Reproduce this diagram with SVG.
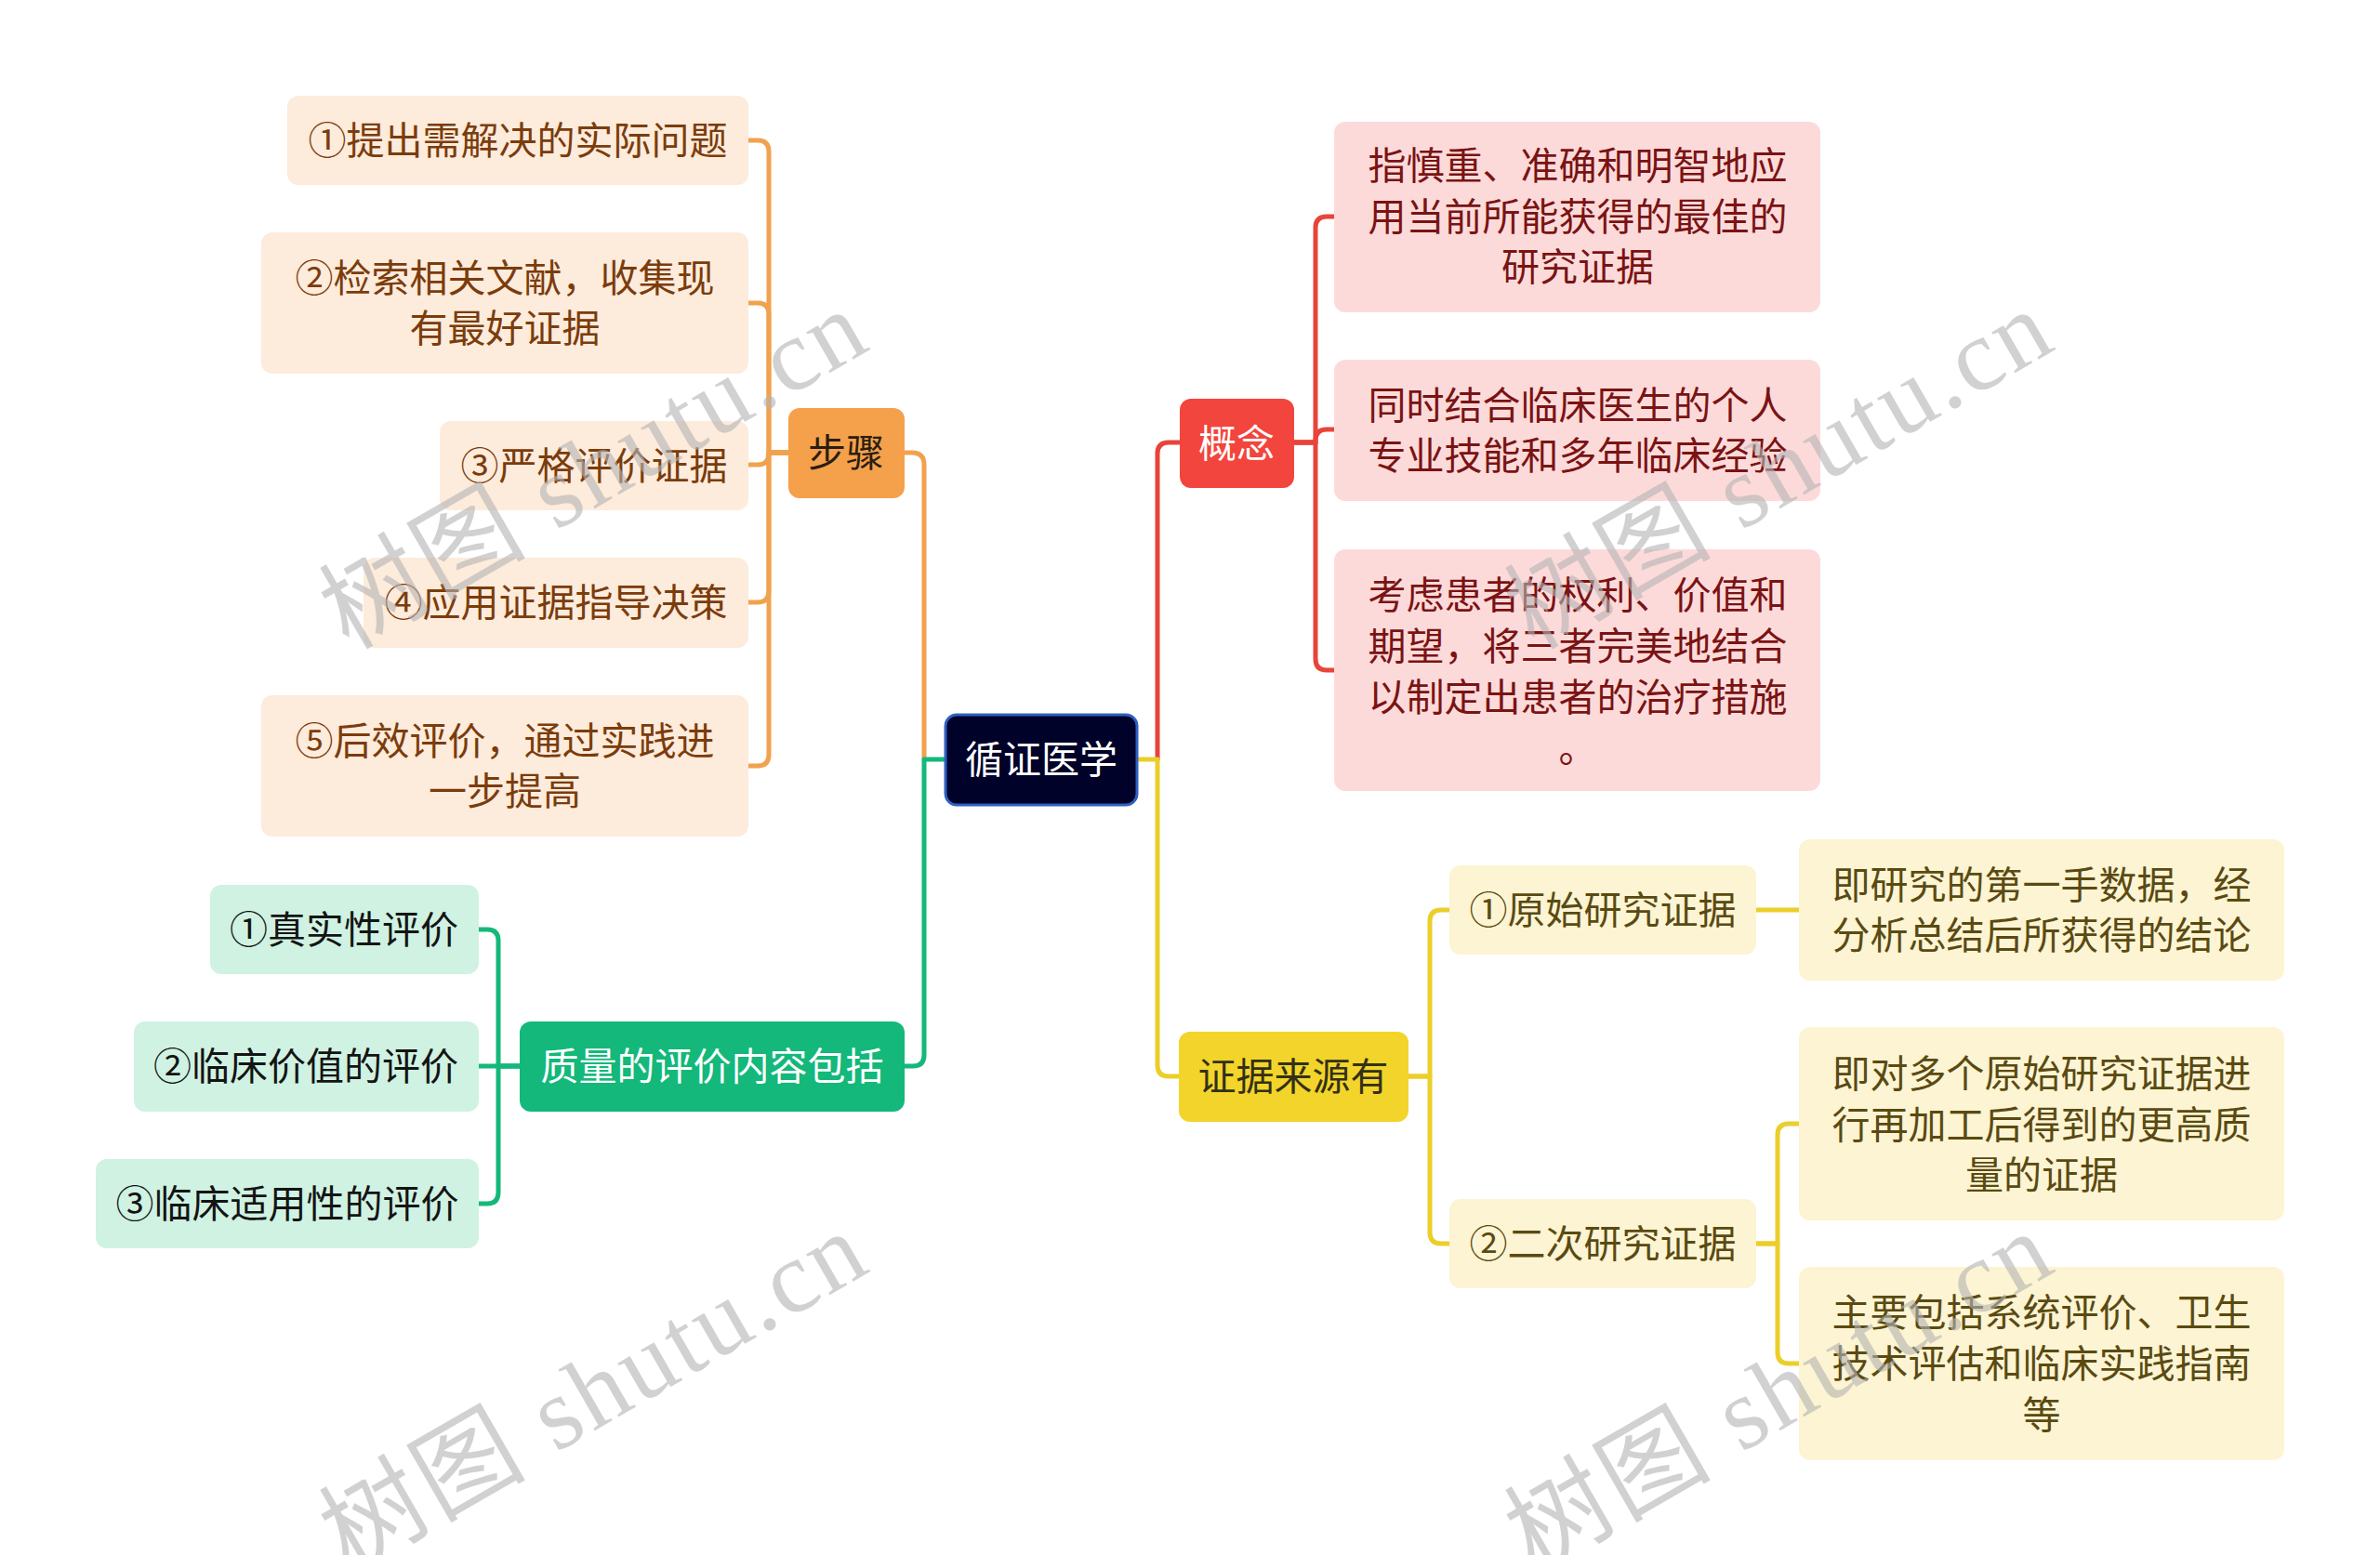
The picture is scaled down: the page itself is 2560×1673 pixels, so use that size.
<svg xmlns="http://www.w3.org/2000/svg" width="2560" height="1673" viewBox="0 0 2560 1673">
<style>
text{font-family:"Noto Sans CJK SC","Liberation Sans",sans-serif;font-size:41px;text-anchor:middle;dominant-baseline:central}
.ln{fill:none;stroke-width:5;stroke-linecap:round;stroke-linejoin:round}
.or{stroke:#f1a24e}.gr{stroke:#14b87b}.rd{stroke:#e8443a}.yl{stroke:#ecce2b}
.t-or{fill:#fdebdb}.x-or{fill:#7b3c0c}
.t-gr{fill:#cff2e2}.x-gr{fill:#141414}
.t-rd{fill:#fddada}.x-rd{fill:#7a1313}
.t-yl{fill:#fcf4d2}.x-yl{fill:#5a4a12}
.wm{font-family:"Liberation Serif","Noto Sans CJK SC",serif;font-size:110px;text-anchor:start;dominant-baseline:alphabetic;fill:#b4b4b4;opacity:0.6}
</style>
<rect width="2560" height="1673" fill="#ffffff"/>
<g id="connectors">
<path class="ln or" d="M973 487 H981 Q994 487 994 500 V817"/>
<path class="ln gr" d="M1017 817 H994 V1135 Q994 1147 982 1147 H973"/>
<path class="ln rd" d="M1245 817 V488 Q1245 476 1257 476 H1269"/>
<path class="ln yl" d="M1223 817 H1245 V1146 Q1245 1158 1257 1158 H1268"/>
<path class="ln or" d="M849 487 H827 V163 Q827 151 815 151 H805"/>
<path class="ln or" d="M849 487 H827 V338 Q827 326 815 326 H805"/>
<path class="ln or" d="M849 487 H827 V488 Q827 500 815 500 H805"/>
<path class="ln or" d="M849 487 H827 V636 Q827 648 815 648 H805"/>
<path class="ln or" d="M849 487 H827 V812 Q827 824 815 824 H805"/>
<path class="ln gr" d="M559 1147 H536 V1012 Q536 1000 524 1000 H515"/>
<path class="ln gr" d="M559 1147 H515"/>
<path class="ln gr" d="M559 1147 H536 V1283 Q536 1295 524 1295 H515"/>
<path class="ln rd" d="M1392 476 H1415 V245 Q1415 233 1427 233 H1435"/>
<path class="ln rd" d="M1392 476 H1415 V474 Q1415 462 1427 462 H1435"/>
<path class="ln rd" d="M1392 476 H1415 V709 Q1415 721 1427 721 H1435"/>
<path class="ln yl" d="M1515 1158 H1538 V991 Q1538 979 1550 979 H1559"/>
<path class="ln yl" d="M1515 1158 H1538 V1326 Q1538 1338 1550 1338 H1559"/>
<path class="ln yl" d="M1889 979 H1935"/>
<path class="ln yl" d="M1889 1338 H1912 V1221 Q1912 1209 1924 1209 H1935"/>
<path class="ln yl" d="M1889 1338 H1912 V1455 Q1912 1467 1924 1467 H1935"/>
</g>
<g id="root">
<rect x="1017" y="769" width="206" height="97" rx="12" fill="#000229" stroke="#2f60c2" stroke-width="3"/>
<text x="1120" y="814" fill="#ffffff">循证医学</text>
</g>
<g id="buzhou">
<rect x="848" y="439" width="125" height="97" rx="12" fill="#f5a04b"/>
<text x="910" y="484" fill="#2a1e10">步骤</text>
</g>
<g id="zhiliang">
<rect x="559" y="1099" width="414" height="97" rx="12" fill="#13b87a"/>
<text x="766" y="1144" fill="#ffffff">质量的评价内容包括</text>
</g>
<g id="gainian">
<rect x="1269" y="429" width="123" height="96" rx="12" fill="#f2453d"/>
<text x="1330" y="474" fill="#ffffff">概念</text>
</g>
<g id="zhengju">
<rect x="1268" y="1110" width="247" height="97" rx="12" fill="#f2d42a"/>
<text x="1391" y="1155" fill="#333018">证据来源有</text>
</g>
<g id="step1"><rect class="t-or" x="309" y="103" width="496" height="96" rx="12"/><text class="x-or" x="557" y="148">①提出需解决的实际问题</text></g>
<g id="step2"><rect class="t-or" x="281" y="250" width="524" height="152" rx="12"/><text class="x-or" x="543" y="296">②检索相关文献，收集现</text><text class="x-or" x="543" y="350">有最好证据</text></g>
<g id="step3"><rect class="t-or" x="473" y="453" width="332" height="96" rx="12"/><text class="x-or" x="639" y="498">③严格评价证据</text></g>
<g id="step4"><rect class="t-or" x="391" y="600" width="414" height="97" rx="12"/><text class="x-or" x="598" y="645">④应用证据指导决策</text></g>
<g id="step5"><rect class="t-or" x="281" y="748" width="524" height="152" rx="12"/><text class="x-or" x="543" y="794">⑤后效评价，通过实践进</text><text class="x-or" x="543" y="848">一步提高</text></g>
<g id="q1"><rect class="t-gr" x="226" y="952" width="289" height="96" rx="12"/><text class="x-gr" x="370" y="997">①真实性评价</text></g>
<g id="q2"><rect class="t-gr" x="144" y="1099" width="371" height="97" rx="12"/><text class="x-gr" x="329" y="1144">②临床价值的评价</text></g>
<g id="q3"><rect class="t-gr" x="103" y="1247" width="412" height="96" rx="12"/><text class="x-gr" x="309" y="1292">③临床适用性的评价</text></g>
<g id="c1"><rect class="t-rd" x="1435" y="131" width="523" height="205" rx="12"/><text class="x-rd" x="1697" y="175">指慎重、准确和明智地应</text><text class="x-rd" x="1697" y="230">用当前所能获得的最佳的</text><text class="x-rd" x="1697" y="284">研究证据</text></g>
<g id="c2"><rect class="t-rd" x="1435" y="387" width="523" height="152" rx="12"/><text class="x-rd" x="1697" y="433">同时结合临床医生的个人</text><text class="x-rd" x="1697" y="487">专业技能和多年临床经验</text></g>
<g id="c3"><rect class="t-rd" x="1435" y="591" width="523" height="260" rx="12"/><text class="x-rd" x="1697" y="637">考虑患者的权利、价值和</text><text class="x-rd" x="1697" y="692">期望，将三者完美地结合</text><text class="x-rd" x="1697" y="747">以制定出患者的治疗措施</text><text class="x-rd" x="1697" y="802">。</text></g>
<g id="e1"><rect class="t-yl" x="1559" y="931" width="330" height="96" rx="12"/><text class="x-yl" x="1724" y="976">①原始研究证据</text></g>
<g id="e2"><rect class="t-yl" x="1559" y="1290" width="330" height="96" rx="12"/><text class="x-yl" x="1724" y="1335">②二次研究证据</text></g>
<g id="e1a"><rect class="t-yl" x="1935" y="903" width="522" height="152" rx="12"/><text class="x-yl" x="2196" y="949">即研究的第一手数据，经</text><text class="x-yl" x="2196" y="1003">分析总结后所获得的结论</text></g>
<g id="e2a"><rect class="t-yl" x="1935" y="1105" width="522" height="208" rx="12"/><text class="x-yl" x="2196" y="1152">即对多个原始研究证据进</text><text class="x-yl" x="2196" y="1207">行再加工后得到的更高质</text><text class="x-yl" x="2196" y="1261">量的证据</text></g>
<g id="e2b"><rect class="t-yl" x="1935" y="1363" width="522" height="208" rx="12"/><text class="x-yl" x="2196" y="1409">主要包括系统评价、卫生</text><text class="x-yl" x="2196" y="1464">技术评估和临床实践指南</text><text class="x-yl" x="2196" y="1519">等</text></g>
<g id="watermarks">
<text class="wm" transform="translate(375 700) rotate(-30)" textLength="650" lengthAdjust="spacing">树图 shutu.cn</text>
<text class="wm" transform="translate(1650 700) rotate(-30)" textLength="650" lengthAdjust="spacing">树图 shutu.cn</text>
<text class="wm" transform="translate(375 1692) rotate(-30)" textLength="650" lengthAdjust="spacing">树图 shutu.cn</text>
<text class="wm" transform="translate(1650 1692) rotate(-30)" textLength="650" lengthAdjust="spacing">树图 shutu.cn</text>
</g>
</svg>
